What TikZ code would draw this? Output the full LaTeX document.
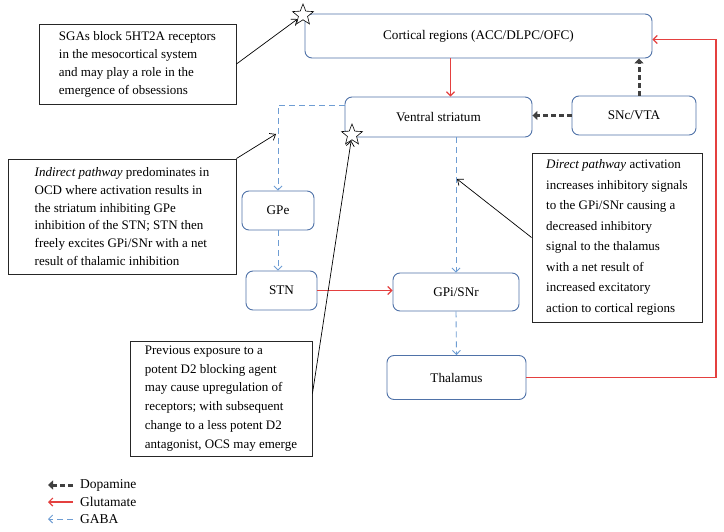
\documentclass[tikz,border=0pt]{standalone}
\usepackage{fontspec}
\setmainfont{Liberation Serif}
\definecolor{boxblue}{HTML}{4F72A8}
\definecolor{gaba}{HTML}{6E9DD3}
\definecolor{glu}{HTML}{E4403F}
\definecolor{dopa}{HTML}{404040}
\usetikzlibrary{arrows.meta}
\usetikzlibrary{shapes.geometric}
\usetikzlibrary{calc}

\begin{document}
\begin{tikzpicture}[x=1pt,y=-1pt,
	region/.style={draw=boxblue, line width=0.9pt, rounded corners=7pt, font=\fontsize{13.2}{15}\selectfont},
	note/.style={draw=black!85, line width=0.9pt, align=left, inner sep=0pt},
	glut/.style={draw=glu, line width=1.2pt, -{Straight Barb[length=4pt,width=8pt]}},
	gab/.style={draw=gaba, line width=0.9pt, dash pattern=on 6pt off 4pt, -{Straight Barb[length=4pt,width=8pt]}},
	dop/.style={draw=dopa, line width=3pt, dash pattern=on 5pt off 3pt, -{Triangle[length=5pt,width=9pt]}},
	ptr/.style={draw=black, line width=0.7pt, -{Straight Barb[length=5pt,width=8pt]}},
	legtext/.style={anchor=west, inner sep=0pt, font=\fontsize{13.5}{16}\selectfont},
	starmark/.style={star, star points=5, star point ratio=2.3, draw, fill=white, line width=0.6pt, minimum size=22pt, inner sep=0pt}]
	\useasboundingbox (0,0) rectangle (724,532);
	% regions
	\node[region, minimum width=347pt, minimum height=44pt] (ctx) at (478.5,36) {Cortical regions (ACC/DLPC/OFC)};
	\node[region, minimum width=187pt, minimum height=40pt] (vs) at (438.5,117) {Ventral striatum};
	\node[region, minimum width=124pt, minimum height=39pt] (snc) at (634,115.5) {SNc/VTA};
	\node[region, minimum width=72pt, minimum height=39pt] (gpe) at (278,210.5) {GPe};
	\node[region, minimum width=71pt, minimum height=39pt] (stn) at (281.5,290.5) {STN};
	\node[region, minimum width=126pt, minimum height=38pt] (gpi) at (456,292) {GPi/SNr};
	\node[region, minimum width=139pt, minimum height=44pt] (thal) at (456.5,377.5) {Thalamus};
	% notes
	\node[note, minimum width=197pt, minimum height=80pt, font=\fontsize{13}{18}\selectfont] (sga) at (137.5,64)
	{SGAs block 5HT2A receptors\\in the mesocortical system\\and may play a role in the\\emergence of obsessions};
	\node[note, minimum width=228pt, minimum height=115pt, font=\fontsize{13}{17.7}\selectfont] (ind) at (122,216.5)
	{\textit{Indirect pathway} predominates in\\OCD where activation results in\\the striatum inhibiting GPe\\inhibition of the STN; STN then\\freely excites GPi/SNr with a net\\result of thalamic inhibition};
	\node[note, minimum width=170pt, minimum height=169pt, font=\fontsize{13}{20.5}\selectfont] (dir) at (617,237.5)
	{\textit{Direct pathway} activation\\increases inhibitory signals\\to the GPi/SNr causing a\\decreased inhibitory\\signal to the thalamus\\with a net result of\\increased excitatory\\action to cortical regions};
	\node[note, minimum width=182pt, minimum height=115pt, font=\fontsize{13}{18.9}\selectfont] (prev) at (221,398.5)
	{Previous exposure to a\\potent D2 blocking agent\\may cause upregulation of\\receptors; with subsequent\\change to a less potent D2\\antagonist, OCS may emerge};
	% connections
	\draw[glut] (ctx.south -| 450.5,0) -- (vs.north -| 450.5,0);
	\draw[dop] (snc.west) -- (snc.west -| vs.east);
	\draw[dop] (snc.north -| 639,0) -- (ctx.south -| 639,0);
	\draw[glut] (thal.east) -- ++(189.5,0) |- ([yshift=-3.5pt]ctx.east);
	\draw[gab] ([yshift=12pt]vs.west) -| (gpe.north);
	\draw[gab] (gpe.south) -- (gpe.south |- stn.north);
	\draw[glut] (stn.east) -- (stn.east -| gpi.west);
	\draw[gab] (gpi.north |- vs.south) -- (gpi.north);
	\draw[gab] (gpi.south) -- (thal.north);
	% stars and pointers
	\node[starmark] (st1) at (303,15) {};
	\node[starmark] (st2) at (352,135) {};
	\coordinate (ip) at (276,134);
	\coordinate (dp) at (457,179);
	\draw[ptr] (sga.east) -- (st1);
	\draw[ptr] (ind.north east) -- (ip);
	\draw[ptr] (dir.west) -- (dp);
	\draw[ptr] ([yshift=5pt]prev.east) -- (st2);
	% legend
	\node[legtext] (ldop) at (80,485) {Dopamine};
	\node[legtext] (lglu) at (80,502) {Glutamate};
	\node[legtext] (lgab) at (80,519) {GABA};
	\draw[dop] ([xshift=-7pt]ldop.west) -- ++(-25,0);
	\draw[glut] ([xshift=-7pt]lglu.west) -- ++(-25,0);
	\draw[gab] ([xshift=-7pt]lgab.west) -- ++(-25,0);
\end{tikzpicture}
\end{document}
